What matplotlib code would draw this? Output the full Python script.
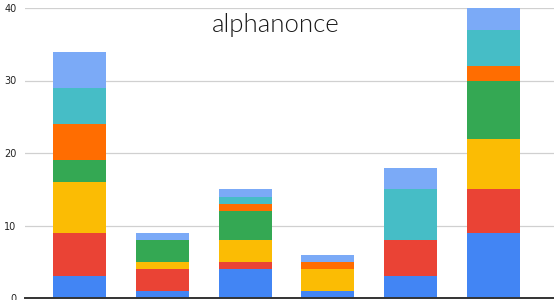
import matplotlib
matplotlib.use("Agg")
import matplotlib.pyplot as plt
from matplotlib import font_manager
import numpy as np

# Six columns, seven stacked series each
categories = ["A", "B", "C", "D", "E", "F"]
series_names = ["S1", "S2", "S3", "S4", "S5", "S6", "S7"]
s1 = [3, 1, 4, 1, 3, 9]
s2 = [6, 3, 1, 0, 5, 6]
s3 = [7, 1, 3, 3, 0, 7]
s4 = [3, 3, 4, 0, 0, 8]
s5 = [5, 0, 1, 1, 0, 2]
s6 = [5, 0, 1, 0, 7, 5]
s7 = [5, 1, 1, 1, 3, 3]
y_ticks = [0, 10, 20, 30, 40]

colors = ["#4285F4", "#EA4335", "#FBBC04", "#34A853", "#FF6D01", "#46BDC6", "#7BAAF7"]

fig = plt.figure(figsize=(5.54, 3.0), dpi=100)
ax = fig.add_axes([25 / 554, 2 / 300, 1 - 25 / 554, (298 - 8) / 300])

x = np.arange(len(categories))
bottom = np.zeros(len(categories))
for name, vals, c in zip(series_names, [s1, s2, s3, s4, s5, s6, s7], colors):
    vals = np.array(vals, dtype=float)
    ax.bar(x, vals, width=0.64, bottom=bottom, color=c, label=name, zorder=3)
    bottom += vals

ax.set_xlim(-0.658, 5.73)
ax.set_ylim(0, 40)
ax.set_yticks(y_ticks)
ax.set_yticklabels([str(t) for t in y_ticks], fontsize=7, color="#222222")
ax.set_xticks([])
ax.tick_params(axis="y", length=0, pad=6)
ax.grid(axis="y", color="#d0d0d0", linewidth=0.9, zorder=0)
for s in ["top", "right", "left"]:
    ax.spines[s].set_visible(False)
ax.spines["bottom"].set_color("#333333")
ax.spines["bottom"].set_linewidth(1.4)
ax.spines["bottom"].set_zorder(4)

# Thin wordmark near the top
title_font = font_manager.FontProperties(family=["Lato", "DejaVu Sans"], weight=300, size=18.5)
fig.text(276 / 554, 1 - 25 / 300, "alphanonce",
         ha="center", va="center", fontproperties=title_font,
         color="#1a1a1a", zorder=5)

fig.savefig("out.png", dpi=100)
